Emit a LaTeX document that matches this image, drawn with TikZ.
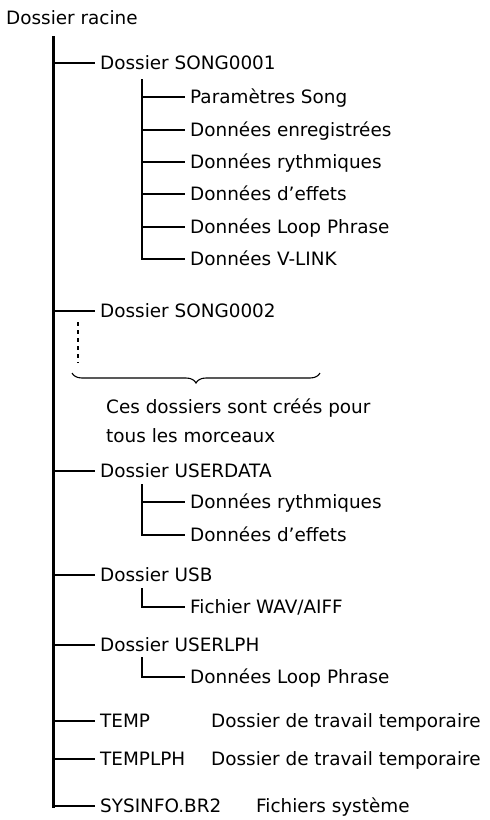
\documentclass[tikz,border=0pt]{standalone}
\usepackage{fontspec}
\setmainfont{DejaVu Sans}
\usetikzlibrary{decorations.pathreplacing}

\begin{document}
\begin{tikzpicture}[x=1pt, y=-1pt,
        item/.style={anchor=west, inner xsep=5pt, inner ysep=0pt, text height=13pt, text depth=0pt, font=\fontsize{18.4}{22}\selectfont},
        trunk/.style={line width=3pt, line cap=rect},
        branch/.style={line width=2pt}]
                    \useasboundingbox (0, 0) rectangle (490, 820);

                    \node[item] (root) at (1, 18) {Dossier racine};
                    \coordinate (top) at (53, 37);

                    \node[item] (song1) at (95, 63) {Dossier SONG0001};
                    \coordinate (s1) at (142, 79);
                    \node[item] (par) at (185, 97) {Paramètres Song};
                    \node[item] (rec) at (185, 129.5) {Données enregistrées};
                    \node[item] (rhy) at (185, 162) {Données rythmiques};
                    \node[item] (eff) at (185, 194) {Données d’effets};
                    \node[item] (loop) at (185, 227) {Données Loop Phrase};
                    \node[item] (vlink) at (185, 259) {Données V-LINK};

                    \node[item] (song2) at (95, 311) {Dossier SONG0002};
                    \coordinate (more) at (78, 322);
                    \coordinate (bl) at (72, 373);
                    \coordinate (br) at (320, 373);
                    \node[item] (note1) at (101, 407) {Ces dossiers sont créés pour};
                    \node[item] (note2) at (101, 436) {tous les morceaux};

                    \node[item] (user) at (95, 471) {Dossier USERDATA};
                    \coordinate (s2) at (142, 484);
                    \node[item] (urhy) at (185, 502) {Données rythmiques};
                    \node[item] (ueff) at (185, 535) {Données d’effets};

                    \node[item] (usb) at (95, 575) {Dossier USB};
                    \coordinate (s3) at (142, 588);
                    \node[item] (wav) at (185, 607) {Fichier WAV/AIFF};

                    \node[item] (ulph) at (95, 645) {Dossier USERLPH};
                    \coordinate (s4) at (142, 657);
                    \node[item] (lph) at (185, 677) {Données Loop Phrase};

                    \node[item] (temp) at (95, 721) {TEMP};
                    \node[item] (tempnote) at (206, 721) {Dossier de travail temporaire};
                    \node[item] (templph) at (95, 759) {TEMPLPH};
                    \node[item] (templphnote) at (206, 759) {Dossier de travail temporaire};
                    \node[item] (sys) at (95, 806) {SYSINFO.BR2};
                    \node[item] (sysnote) at (251, 806) {Fichiers système};

                    \draw[trunk] (top) -- (top |- sys.west);
                    \draw[branch]
                    (top |- song1.west) -- (song1.west)
                    (top |- song2.west) -- (song2.west)
                    (top |- user.west) -- (user.west)
                    (top |- usb.west) -- (usb.west)
                    (top |- ulph.west) -- (ulph.west)
                    (top |- temp.west) -- (temp.west)
                    (top |- templph.west) -- (templph.west)
                    (top |- sys.west) -- (sys.west);

                    \draw[branch]
                    (s1) -- (s1 |- vlink.west) -- (vlink.west)
                    (s1 |- par.west) -- (par.west)
                    (s1 |- rec.west) -- (rec.west)
                    (s1 |- rhy.west) -- (rhy.west)
                    (s1 |- eff.west) -- (eff.west)
                    (s1 |- loop.west) -- (loop.west)
                    (s2) -- (s2 |- ueff.west) -- (ueff.west)
                    (s2 |- urhy.west) -- (urhy.west)
                    (s3) -- (s3 |- wav.west) -- (wav.west)
                    (s4) -- (s4 |- lph.west) -- (lph.west);

                    \draw[branch, dash pattern=on 4pt off 4pt] (more) -- ++(0, 41);
                    \draw[line width=1.1pt, decorate, decoration={brace, mirror, amplitude=10pt}] (bl) -- (br);
                \end{tikzpicture}
\end{document}
